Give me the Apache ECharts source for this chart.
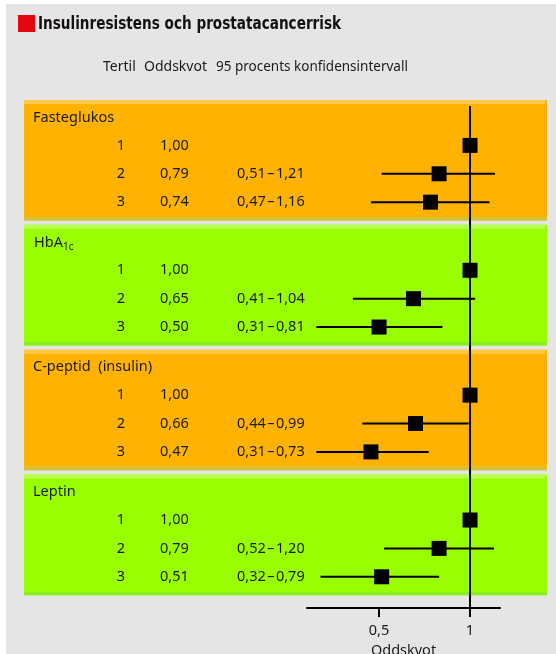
<!DOCTYPE html>
<html>
<head>
<meta charset="utf-8">
<script src="https://cdn.jsdelivr.net/npm/echarts@6/dist/echarts.min.js"></script>
<style>
html, body { margin: 0; padding: 0; background: #fff; }
#chart { width: 556px; height: 654px; }
</style>
</head>
<body>
<div id="chart"></div>
<script>
const groups = ["Fasteglukos", "HbA1c", "C-peptid  (insulin)", "Leptin"];
const tertiles = ["1", "2", "3"];
const oddsRatio = [[1.00, 0.79, 0.74], [1.00, 0.65, 0.50], [1.00, 0.66, 0.47], [1.00, 0.79, 0.51]];
const ciLow = [[null, 0.51, 0.47], [null, 0.41, 0.31], [null, 0.44, 0.31], [null, 0.52, 0.32]];
const ciHigh = [[null, 1.21, 1.16], [null, 1.04, 0.81], [null, 0.99, 0.73], [null, 1.20, 0.79]];
const xTicks = [0.5, 1];
const xTickLabels = ["0,5", "1"];

// layout in row units of the y axis
const PITCH = 4.4, PANEL_H = 4.25, ROW0 = 1.6, LABEL_Y = 0.62;
const FONT = '"Noto Sans", sans-serif';
const panelColors = [
    { main: "#ffb300", top: "#ffc84b", bottom: "#cdc43a" },
    { main: "#99ff00", top: "#b6ff4f", bottom: "#88ee22" }
];

const fmt = v => v.toFixed(2).replace(".", ",");

let chart = echarts.init(document.getElementById("chart"));

let points = [], bars = [];
groups.forEach((g, k) => {
    tertiles.forEach((t, j) => {
        let y = k * PITCH + ROW0 + j;
        points.push([oddsRatio[k][j], y]);
        if (ciLow[k][j] != null) bars.push([ciLow[k][j], ciHigh[k][j], y]);
    });
});

function txt(text, x, y, align) {
    return {
        type: "text",
        style: { text: text, x: x, y: y, align: align || "left", verticalAlign: "middle",
                 font: "14.5px " + FONT, fill: "#1a1a1a" }
    };
}

let option = {
    backgroundColor: "#fff",
    animation: false,
    grid: { left: 307, width: 193, top: 100, height: 508, outerBoundsMode: "none" },
    xAxis: {
        type: "log",
        logBase: 2,
        min: 0.2887,
        max: 1.2567,
        position: "bottom",
        splitLine: { show: false },
        axisLine: { onZero: false, lineStyle: { color: "#000", width: 2 } },
        axisTick: { length: 9, lineStyle: { color: "#000", width: 2 }, customValues: xTicks },
        axisLabel: {
            customValues: xTicks,
            margin: 15,
            fontSize: 14.5,
            fontFamily: FONT,
            color: "#1a1a1a",
            formatter: v => xTickLabels[xTicks.indexOf(+v.toFixed(3))] || ""
        },
        name: "Oddskvot",
        nameLocation: "middle",
        nameGap: 34,
        nameTextStyle: { fontSize: 14.5, fontFamily: FONT, color: "#1a1a1a" }
    },
    yAxis: { type: "value", inverse: true, min: 0, max: 17.9, show: false },
    graphic: [
        { type: "rect", shape: { x: 6, y: 4, width: 550, height: 650 }, style: { fill: "#e5e5e5" }, z: -10 },
        { type: "rect", shape: { x: 18, y: 15, width: 17, height: 17 }, style: { fill: "#e30613" } },
        { type: "text", x: 38, y: 24, scaleX: 0.84, style: { text: "Insulinresistens och prostatacancerrisk",
            font: 'bold 18px "DejaVu Sans Condensed", sans-serif',
            fill: "#111", verticalAlign: "middle" } },
        { type: "text", x: 103, y: 67, style: { text: "Tertil", font: "14px " + FONT, fill: "#1a1a1a", verticalAlign: "middle" } },
        { type: "text", x: 144, y: 67, style: { text: "Oddskvot", font: "14px " + FONT, fill: "#1a1a1a", verticalAlign: "middle" } },
        { type: "text", x: 216, y: 67, style: { text: "95 procents konfidensintervall", font: "13.5px " + FONT, fill: "#1a1a1a", verticalAlign: "middle" } }
    ],
    series: [
        {
            // panels with their table text
            type: "custom",
            z: 1,
            data: groups.map((g, k) => [1, k]),
            renderItem: function (params, api) {
                let k = api.value(1);
                let c = panelColors[k % 2];
                let top = api.coord([1, k * PITCH])[1];
                let bottom = api.coord([1, k * PITCH + PANEL_H])[1];
                let children = [
                    { type: "rect", shape: { x: 24, y: top, width: 523, height: bottom - top }, style: { fill: c.main } },
                    { type: "rect", shape: { x: 24, y: top, width: 521, height: 4 }, style: { fill: c.top } },
                    { type: "rect", shape: { x: 24, y: bottom - 3.5, width: 523, height: 3.5 }, style: { fill: c.bottom } }
                ];
                let ly = api.coord([1, k * PITCH + LABEL_Y])[1];
                if (groups[k] === "HbA1c") {
                    children.push({
                        type: "text",
                        style: { text: "{a|HbA}{s|1c}", x: 34, y: ly, verticalAlign: "middle", fill: "#1a1a1a",
                            rich: { a: { font: "14.5px " + FONT }, s: { font: "10px " + FONT, padding: [9, 0, 0, 0] } } }
                    });
                } else {
                    children.push(txt(groups[k], 33, ly));
                }
                tertiles.forEach((t, j) => {
                    let y = api.coord([1, k * PITCH + ROW0 + j])[1];
                    children.push(txt(t, 121, y, "center"));
                    children.push(txt(fmt(oddsRatio[k][j]), 160, y));
                    if (ciLow[k][j] != null) children.push(txt(fmt(ciLow[k][j]) + "\u200a\u2013\u200a" + fmt(ciHigh[k][j]), 237, y));
                });
                return { type: "group", children: children };
            }
        },
        {
            // reference line at 1
            type: "line",
            z: 3,
            clip: false,
            symbol: "none",
            data: [[1, 0.21], [1, 17.9]],
            lineStyle: { color: "#000", width: 2 }
        },
        {
            type: "custom",
            z: 4,
            data: bars,
            renderItem: function (params, api) {
                let a = api.coord([api.value(0), api.value(2)]);
                let b = api.coord([api.value(1), api.value(2)]);
                return { type: "line", shape: { x1: a[0], y1: a[1], x2: b[0], y2: b[1] },
                         style: { stroke: "#000", lineWidth: 2 } };
            }
        },
        {
            type: "scatter",
            z: 5,
            symbol: "rect",
            symbolSize: 15,
            data: points,
            itemStyle: { color: "#000", opacity: 1 }
        }
    ]
};
chart.setOption(option);
</script>
</body>
</html>
